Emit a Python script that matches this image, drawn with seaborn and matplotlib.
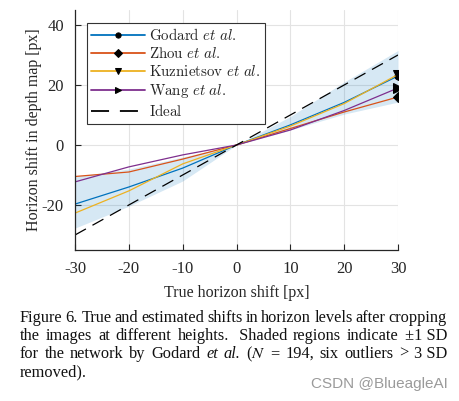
import pandas as pd
import matplotlib
matplotlib.use("Agg")
import matplotlib.pyplot as plt
import seaborn as sns

# values
shift = [-30, -20, -10, 0, 10, 20, 30]
godard = [-19.7, -14.0, -7.7, 0, 6.7, 14.2, 23.0]
godard_lo = [-27.7, -20.4, -12.0, 0, 5.0, 10.3, 14.3]
godard_hi = [-10.5, -8.0, -4.0, 0, 9.5, 21.0, 31.5]
zhou = [-10.5, -9.0, -4.7, 0, 5.5, 11.0, 16.0]
kuznietsov = [-22.7, -15.3, -6.3, 0, 6.3, 13.8, 23.5]
wang = [-12.3, -7.3, -3.3, 0, 5.0, 11.5, 19.0]
ideal = [-30, -20, -10, 0, 10, 20, 30]

names = ["Godard", "Zhou", "Kuznietsov", "Wang"]
series = [godard, zhou, kuznietsov, wang]
colors = ["#0072BD", "#D95319", "#EDB120", "#7E2F8E"]
markers = ["o", "D", "v", ">"]
msizes = [5, 5, 6.5, 6.5]

sns.set_style("ticks")
plt.rcParams["font.family"] = ["Liberation Serif", "DejaVu Serif"]

W, H = 460, 401
fig = plt.figure(figsize=(W / 100, H / 100), dpi=100)
ax = fig.add_axes([75 / W, 1 - 250 / H, 323 / W, 240 / H])

ax.fill_between(shift, godard_lo, godard_hi, color="#0072BD", alpha=0.16, lw=0)

for name, vals, c, m, ms in zip(names, series, colors, markers, msizes):
    df = pd.DataFrame({"x": shift, "y": vals})
    sns.lineplot(data=df, x="x", y="y", color=c, lw=0.9, ax=ax,
                 marker=m, markersize=ms, markevery=[len(shift) - 1],
                 markerfacecolor="black", markeredgecolor="black",
                 label=r"$\mathrm{%s}\ \mathit{et\ al.}$" % name)

sns.lineplot(x=shift, y=ideal, color="black", lw=0.9, ax=ax,
             dashes=False, label=r"$\mathrm{Ideal}$")
ax.lines[-1].set_dashes([10, 6])

ax.set_xlim(-30, 30)
ax.set_ylim(-35, 45)
ax.set_xticks(shift)
ax.set_xticklabels([str(v) for v in shift])
ax.set_yticks([-20, 0, 20, 40])
ax.set_yticklabels(["-20", "0", "20", "40"])
ax.grid(True, color="#e3e3e3", lw=0.8)
ax.tick_params(direction="in", length=4, labelsize=12, colors="#262626", pad=8)
for s in ["top", "right"]:
    ax.spines[s].set_visible(False)
for s in ["left", "bottom"]:
    ax.spines[s].set_color("#262626")
    ax.spines[s].set_linewidth(0.9)
ax.set_xlabel("True horizon shift [px]", fontsize=11.5, color="#262626", labelpad=6)
ax.set_ylabel("Horizon shift in depth map [px]", fontsize=11.5, color="#262626", labelpad=0)

leg = ax.legend(loc="upper left", bbox_to_anchor=(0.037, 0.946), borderaxespad=0,
                fancybox=False, framealpha=1, edgecolor="#333333",
                handlelength=3.6, handletextpad=0.25, labelspacing=0.2,
                borderpad=0.3, markerscale=0.75,
                prop={"size": 10.8, "math_fontfamily": "cm"})
leg.get_frame().set_linewidth(0.8)
for ln in leg.get_lines():
    ln.set_linewidth(1.3)

# caption, justified word by word
caption = [
    ([("Figure", ""), ("6.", ""), ("True", ""), ("and", ""), ("estimated", ""), ("shifts", ""),
      ("in", ""), ("horizon", ""), ("levels", ""), ("after", ""), ("cropping", "")], 318, True),
    ([("the", ""), ("images", ""), ("at", ""), ("different", ""), ("heights.", ""), (" Shaded", ""),
      ("regions", ""), ("indicate", ""), ("\u00b11 SD", "")], 336, True),
    ([("for", ""), ("the", ""), ("network", ""), ("by", ""), ("Godard", ""), ("et", "i"),
      ("al.", "i"), (r"($N$", ""), ("=", ""), ("194,", ""), ("six", ""), ("outliers", ""),
      (">", ""), ("3 SD", "")], 354, True),
    ([("removed).", "")], 372, False),
]
renderer = fig.canvas.get_renderer()
x0, x1 = 20, 447
for words, y, just in caption:
    texts = []
    for w, st in words:
        t = fig.text(0, 1 - y / H, w, fontsize=11.8, va="center", color="#111111",
                     style="italic" if st == "i" else "normal", math_fontfamily="stix")
        texts.append(t)
    widths = [t.get_window_extent(renderer).width for t in texts]
    gap = (x1 - x0 - sum(widths)) / (len(texts) - 1) if just else 0
    x = x0
    for t, wd in zip(texts, widths):
        t.set_x(x / W)
        x += wd + gap

fig.text(448 / W, 1 - 384 / H, "CSDN @BlueagleAI", ha="right", va="center",
         fontsize=11, color="#9a9a9a", family=["Liberation Sans", "DejaVu Sans"])

fig.savefig("out.png", dpi=100)
